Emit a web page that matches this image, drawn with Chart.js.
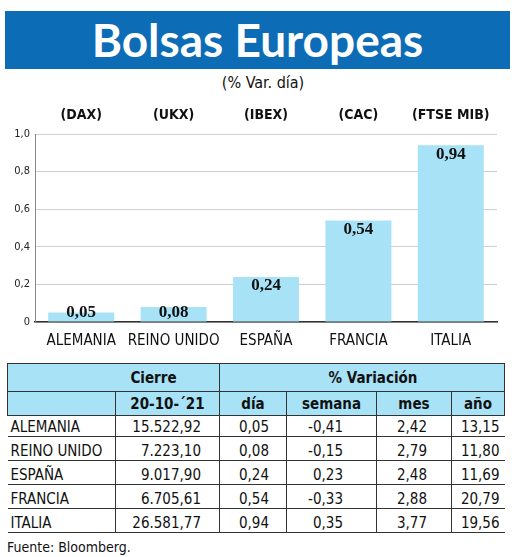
<!DOCTYPE html>
<html>
<head>
<meta charset="utf-8">
<script src="https://cdn.jsdelivr.net/npm/chart.js@4/dist/chart.umd.min.js"></script>
<style>
  body { margin: 0; width: 520px; height: 557px; background: #fff; position: relative; overflow: hidden;
         font-family: "DejaVu Sans Condensed", "Liberation Sans Narrow", sans-serif; color: #111; }
  #title { position: absolute; left: 5px; top: 11px; width: 505px; height: 58px; background: #0d6cb6;
           color: #fff; font: bold 46px Lato, "Open Sans", sans-serif; text-align: center; line-height: 58px; }
  #sub { position: absolute; left: 0; width: 526px; top: 73px; text-align: center; font-size: 16px; }
  #wrap { position: absolute; left: 0; top: 98px; width: 520px; height: 258px; }
  #tbl { position: absolute; left: 7px; top: 363px; border-collapse: collapse; table-layout: fixed; width: 497px; font-size: 15px; }
  #tbl td { padding: 0; white-space: nowrap; }
  #tbl tr.h td { background: #a8e2f6; font-weight: bold; font-size: 15px; text-align: center; border: 1px solid #333; }
  #tbl tr.d td { border-bottom: 1px solid #333; vertical-align: bottom; line-height: 18px; }
  #tbl tr.d td + td { border-left: 1px solid #333; text-align: right; }
  #src { position: absolute; left: 7px; top: 539px; font-size: 14px; }
</style>
</head>
<body>
<div id="title">Bolsas Europeas</div>
<div id="sub">(% Var. día)</div>
<div id="wrap"><canvas id="chart"></canvas></div>
<table id="tbl"></table>
<div id="src">Fuente: Bloomberg.</div>

<script>
var countries = ["ALEMANIA", "REINO UNIDO", "ESPAÑA", "FRANCIA", "ITALIA"];
var tickers = ["(DAX)", "(UKX)", "(IBEX)", "(CAC)", "(FTSE MIB)"];
var dayVar = [0.05, 0.08, 0.24, 0.54, 0.94];
var closes = ["15.522,92", "7.223,10", "9.017,90", "6.705,61", "26.581,77"];
var weekVar = [-0.41, -0.15, 0.23, -0.33, 0.35];
var monthVar = [2.42, 2.79, 2.48, 2.88, 3.77];
var yearVar = [13.15, 11.80, 11.69, 20.79, 19.56];

var NARROW = '"DejaVu Sans Condensed", "Liberation Sans Narrow", sans-serif';

function comma(v) { return v.toFixed(2).replace('.', ','); }

// etiquetas dentro de las barras
var valueLabels = {
  id: 'valueLabels',
  afterDatasetsDraw: function(chart) {
    var ctx = chart.ctx;
    ctx.save();
    ctx.font = 'bold 17px "Liberation Serif", "DejaVu Serif", serif';
    ctx.fillStyle = '#111';
    ctx.textAlign = 'center';
    ctx.textBaseline = 'middle';
    chart.getDatasetMeta(0).data.forEach(function(bar, i) {
      var y = Math.min(bar.y + 9, bar.base - 9);
      ctx.fillText(comma(dayVar[i]), bar.x, y);
    });
    ctx.restore();
  }
};

new Chart(document.getElementById('chart').getContext('2d'), {
  type: 'bar',
  data: {
    labels: countries,
    datasets: [{
      data: dayVar,
      backgroundColor: '#a7e2f7',
      borderWidth: 0,
      barPercentage: 0.714,
      categoryPercentage: 1
    }]
  },
  options: {
    responsive: true,
    maintainAspectRatio: false,
    animation: false,
    layout: { padding: { left: 0, right: 23, top: 0, bottom: 0 } },
    plugins: { legend: { display: false }, tooltip: { enabled: false } },
    scales: {
      x: {
        position: 'bottom',
        grid: { display: false, drawTicks: false },
        border: { display: true, color: '#333', width: 1.5 },
        ticks: { color: '#111', padding: 10, maxRotation: 0, minRotation: 0, autoSkip: false,
                 font: { family: NARROW, size: 15 } },
        afterFit: function(s) { s.height = 34; s.paddingLeft = 0; s.paddingRight = 0; }
      },
      xTop: {
        type: 'category',
        labels: tickers,
        position: 'top',
        grid: { display: false, drawTicks: false },
        border: { display: false },
        ticks: { color: '#111', padding: 10, maxRotation: 0, minRotation: 0, autoSkip: false,
                 font: { family: NARROW, size: 14, weight: 'bold' } },
        afterFit: function(s) { s.height = 36; s.paddingLeft = 0; s.paddingRight = 0; }
      },
      y: {
        min: 0,
        max: 1,
        ticks: {
          stepSize: 0.2,
          color: '#222',
          padding: 5,
          font: { family: NARROW, size: 11 },
          callback: function(v) { return v === 0 ? '0' : v.toFixed(1).replace('.', ','); }
        },
        grid: { color: '#cfcfcf', drawTicks: false },
        border: { display: true, color: '#888', width: 1 },
        afterFit: function(s) { s.width = 35; }
      }
    }
  },
  plugins: [valueLabels]
});

// tabla
var tbl = document.getElementById('tbl');
var colW = [108, 104, 67, 90, 75, 53];
var html = '<colgroup>' + colW.map(function(w) { return '<col style="width:' + w + 'px">'; }).join('') + '</colgroup>';
html += '<tr class="h" style="height:28px"><td colspan="2" style="padding-left:80px;border-right:1px solid #333">Cierre</td>' +
        '<td colspan="4" style="padding-left:22px">% Variación</td></tr>';
html += '<tr class="h" style="height:24px"><td></td><td>20-10-´21</td><td>día</td><td>semana</td><td>mes</td><td>año</td></tr>';
var padR = [0, 18, 17, 33, 24, 5];
countries.forEach(function(c, i) {
  var cells = [c, closes[i], comma(dayVar[i]), comma(weekVar[i]), comma(monthVar[i]), comma(yearVar[i])];
  html += '<tr class="d" style="height:' + (i === 0 ? 21 : 24) + 'px">' + cells.map(function(t, j) {
    return '<td style="' + (j === 0 ? 'padding-left:3px' : 'padding-right:' + padR[j] + 'px') + '">' + t + '</td>';
  }).join('') + '</tr>';
});
tbl.innerHTML = html;
</script>
</body>
</html>
